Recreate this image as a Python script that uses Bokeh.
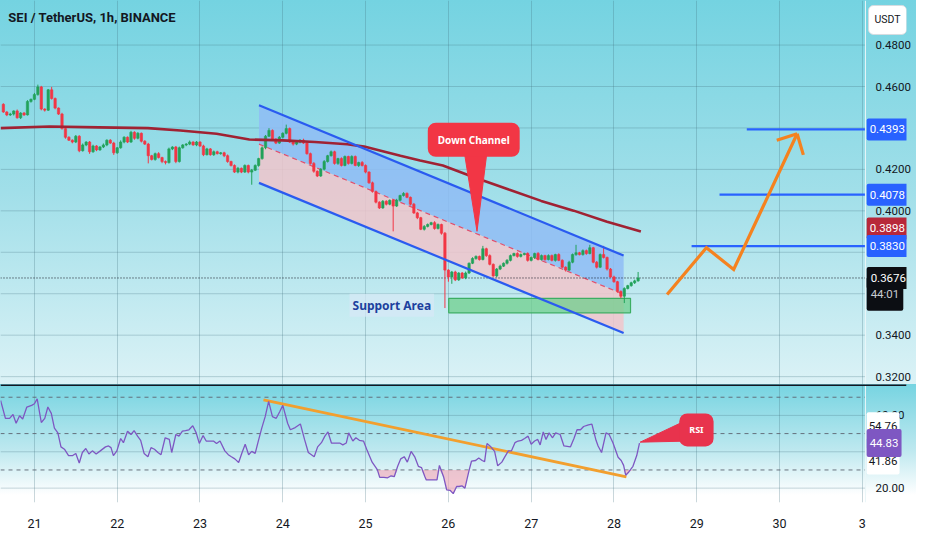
from bokeh.plotting import figure
from bokeh.models import Range1d, FixedTicker, Label, Span, ColumnDataSource, NumeralTickFormatter
from bokeh.layouts import column
from bokeh.embed import file_html
from bokeh.resources import INLINE

# ---------------- data ----------------
# hours since Sep 21 00:00 (1h candles)
first_open = 0.4514
closes = [
    0.4477, 0.4463, 0.4467, 0.4482, 0.4449, 0.4472, 0.4463, 0.4528, 0.4538, 0.4561,
    0.4598, 0.4491, 0.4486, 0.4584, 0.4542, 0.4496, 0.4467, 0.4397, 0.4355, 0.4341,
    0.4332, 0.4360, 0.4290, 0.4318, 0.4332, 0.4285, 0.4313, 0.4294, 0.4308, 0.4318,
    0.4341, 0.4327, 0.4280, 0.4304, 0.4332, 0.4355, 0.4332, 0.4379, 0.4350, 0.4374,
    0.4336, 0.4322, 0.4266, 0.4248, 0.4276, 0.4257, 0.4238, 0.4233, 0.4299, 0.4308,
    0.4238, 0.4304, 0.4318, 0.4322, 0.4332, 0.4318, 0.4332, 0.4313, 0.4271, 0.4299,
    0.4271, 0.4285, 0.4276, 0.4280, 0.4266, 0.4238, 0.4219, 0.4187, 0.4205, 0.4187,
    0.4219, 0.4187, 0.4196, 0.4219, 0.4252, 0.4304, 0.4360, 0.4388, 0.4346, 0.4327,
    0.4355, 0.4374, 0.4397, 0.4332, 0.4322, 0.4332, 0.4341, 0.4327, 0.4276, 0.4229,
    0.4191, 0.4168, 0.4201, 0.4238, 0.4266, 0.4285, 0.4229, 0.4252, 0.4219, 0.4262,
    0.4229, 0.4262, 0.4219, 0.4233, 0.4219, 0.4187, 0.4135, 0.4093, 0.4042, 0.4014,
    0.4046, 0.4032, 0.4051, 0.4023, 0.4051, 0.4074, 0.4084, 0.4065, 0.4032, 0.3990,
    0.3967, 0.3911, 0.3925, 0.3934, 0.3943, 0.3915, 0.3934, 0.3892, 0.3714, 0.3681,
    0.3705, 0.3667, 0.3700, 0.3676, 0.3700, 0.3747, 0.3770, 0.3780, 0.3765, 0.3817,
    0.3784, 0.3742, 0.3686, 0.3719, 0.3733, 0.3747, 0.3761, 0.3784, 0.3794, 0.3780,
    0.3789, 0.3794, 0.3761, 0.3775, 0.3794, 0.3765, 0.3784, 0.3765, 0.3784, 0.3761,
    0.3789, 0.3761, 0.3728, 0.3714, 0.3752, 0.3789, 0.3798, 0.3789, 0.3808, 0.3794,
    0.3822, 0.3752, 0.3728, 0.3789, 0.3775, 0.3719, 0.3681, 0.3658, 0.3611, 0.3588,
    0.3625, 0.3639, 0.3653, 0.3662, 0.3676,
]
# wick lengths beyond the body, in 0.0001 units
upper_wick = [
    5, 4, 6, 3, 7, 4, 5, 6, 4, 8,
    11, 5, 4, 4, 14, 5, 3, 6, 4, 5,
    4, 6, 5, 7, 4, 5, 6, 4, 5, 7,
    4, 5, 6, 4, 8, 5, 4, 7, 5, 6,
    4, 5, 6, 4, 5, 7, 4, 5, 6, 4,
    5, 6, 4, 5, 7, 4, 5, 4, 6, 5,
    4, 6, 5, 4, 5, 6, 4, 5, 7, 4,
    5, 4, 6, 5, 4, 7, 6, 11, 5, 4,
    6, 5, 19, 5, 4, 6, 5, 7, 4, 5,
    6, 4, 5, 7, 4, 6, 5, 4, 6, 5,
    4, 6, 5, 4, 7, 5, 4, 6, 5, 4,
    6, 5, 4, 5, 7, 4, 6, 5, 4, 6,
    5, 4, 6, 5, 4, 7, 5, 4, 6, 4,
    5, 6, 4, 5, 7, 4, 6, 5, 4, 14,
    5, 6, 4, 5, 7, 4, 6, 5, 4, 6,
    5, 4, 6, 5, 4, 7, 5, 4, 6, 5,
    4, 6, 5, 4, 7, 5, 38, 4, 6, 5,
    14, 4, 6, 5, 42, 4, 5, 6, 4, 5,
    6, 4, 5, 6, 29,
]
lower_wick = [
    4, 6, 5, 7, 4, 6, 5, 3, 6, 4,
    5, 6, 7, 4, 5, 6, 4, 5, 7, 4,
    6, 5, 7, 4, 6, 10, 5, 6, 4, 5,
    6, 4, 10, 5, 4, 6, 5, 4, 7, 5,
    6, 4, 37, 5, 6, 4, 8, 9, 5, 6,
    8, 5, 4, 6, 5, 4, 6, 5, 7, 4,
    5, 6, 4, 5, 7, 6, 5, 4, 6, 5,
    4, 6, 61, 4, 6, 5, 7, 4, 6, 5,
    4, 6, 5, 4, 7, 5, 6, 4, 5, 6,
    7, 5, 4, 6, 5, 4, 6, 7, 5, 4,
    6, 5, 4, 7, 5, 6, 4, 5, 6, 5,
    4, 6, 5, 122, 4, 6, 5, 4, 6, 5,
    7, 4, 6, 5, 4, 6, 5, 7, 183, 23,
    33, 6, 5, 4, 6, 5, 4, 6, 5, 4,
    6, 5, 4, 7, 5, 4, 6, 5, 4, 6,
    5, 4, 6, 5, 7, 4, 5, 6, 4, 5,
    6, 4, 5, 7, 4, 5, 6, 4, 5, 6,
    4, 5, 6, 4, 5, 7, 4, 5, 6, 10,
    33, 4, 5, 6, 4,
]
candle_hours = list(range(-9, 176))

# 200 MA (read at sample points)
ma_h = [-9.8, 4.4, 18.7, 32.9, 42.3, 52.8, 62.3, 71.9, 81.3, 90.7, 95.6, 100.4,
        106.1, 111.8, 118.4, 127.8, 137.5, 146.9, 156.3, 166.0, 175.8]
ma_v = [0.4399, 0.4407, 0.4403, 0.4399, 0.4388, 0.4372, 0.4344, 0.4340, 0.4332,
        0.4321, 0.4310, 0.4290, 0.4266, 0.4243, 0.4219, 0.4160, 0.4103, 0.4048,
        0.4001, 0.3947, 0.3900]

# RSI (read at sample points)
rsi_h = [-9.8, -8.4, -7.2, -6.2, -5.3, -4.3, -3.4, -2.2, -0.8, 0.0,
         0.8, 2.0, 3.0, 3.9, 4.9, 5.8, 6.8, 7.7, 8.7, 9.9,
         11.1, 12.0, 13.0, 13.9, 14.9, 15.8, 16.8, 17.9, 19.1, 20.6,
         21.5, 22.2, 22.9, 23.9, 25.0, 25.8, 27.0, 28.0, 28.9, 29.9,
         30.8, 31.8, 32.9, 33.8, 34.8, 35.8, 36.7, 37.9, 39.1, 39.8,
         41.0, 41.9, 42.9, 43.8, 44.8, 45.9, 46.9, 47.8, 48.9, 49.8,
         50.9, 51.9, 52.8, 53.8, 55.2, 56.2, 57.1, 58.1, 59.2, 60.2,
         61.1, 62.1, 63.0, 64.0, 64.9, 65.9, 66.9, 67.9, 69.0, 70.1,
         71.1, 72.0, 73.4, 74.2, 75.6, 77.1, 78.3, 79.4, 81.1, 82.1,
         83.2, 84.2, 85.1, 86.1, 87.5, 88.5, 89.4, 90.4, 91.1, 92.3,
         93.2, 94.2, 95.4, 96.5, 97.9, 99.4, 100.1, 101.3, 102.4, 103.4,
         104.3, 105.3, 106.2, 107.2, 108.1, 109.2, 110.3, 111.3, 112.2, 113.2,
         113.6, 115.5, 116.7, 117.4, 118.6, 119.5, 120.5, 121.4, 122.4, 123.1,
         123.9, 124.8, 126.0, 126.7, 127.9, 128.8, 129.8, 130.5, 131.2, 132.3,
         133.4, 134.3, 135.5, 136.4, 137.4, 138.3, 139.3, 140.2, 141.2, 142.1,
         143.1, 144.0, 145.0, 145.9, 146.6, 147.5, 148.3, 149.2, 150.2, 151.1,
         152.4, 153.5, 155.4, 156.4, 157.3, 158.3, 159.2, 160.6, 161.6, 162.8,
         163.4, 164.4, 165.7, 166.6, 167.7, 169.2, 170.1, 170.8, 171.4, 172.3,
         173.5, 174.6, 175.4]
rsi_v = [68.2, 58.4, 58.4, 60.5, 55.7, 59.8, 58.0, 64.6, 65.5, 66.4,
         69.1, 56.1, 58.4, 64.6, 61.1, 53.0, 50.4, 42.7, 41.4, 37.9,
         37.9, 39.1, 33.8, 39.6, 41.8, 38.8, 40.5, 38.8, 40.5, 42.7,
         43.2, 42.3, 37.9, 40.5, 47.3, 45.0, 51.3, 49.5, 51.6, 48.6,
         46.3, 39.1, 37.3, 42.3, 41.4, 39.6, 38.4, 47.7, 46.8, 39.6,
         49.5, 48.6, 51.3, 51.6, 52.1, 54.3, 50.4, 44.6, 48.9, 45.9,
         45.9, 45.9, 44.5, 45.9, 40.5, 38.4, 37.3, 36.1, 34.1, 39.6,
         44.1, 38.4, 40.2, 39.1, 45.9, 53.0, 59.3, 67.7, 59.3, 58.4,
         62.0, 65.5, 55.7, 52.1, 53.3, 55.3, 46.8, 39.6, 37.3, 42.7,
         45.0, 48.6, 50.9, 44.8, 44.8, 44.8, 43.8, 44.8, 50.4, 45.9,
         47.7, 46.3, 45.9, 40.5, 34.3, 30.2, 25.9, 25.9, 25.7, 26.8,
         26.3, 32.0, 36.1, 37.3, 34.3, 40.2, 37.0, 32.0, 31.3, 26.3,
         24.5, 24.5, 24.5, 32.5, 26.3, 19.1, 18.8, 17.0, 20.9, 20.9,
         21.3, 20.0, 29.8, 34.8, 35.2, 36.6, 35.2, 34.6, 44.5, 42.7,
         40.2, 32.3, 34.3, 37.3, 40.5, 40.5, 45.0, 45.9, 46.3, 47.3,
         48.6, 44.1, 45.9, 46.8, 43.8, 50.9, 46.8, 50.4, 47.7, 50.4,
         49.5, 43.2, 42.7, 47.3, 52.1, 52.1, 53.9, 54.8, 55.2, 46.3,
         43.2, 39.6, 50.4, 49.5, 45.0, 37.0, 35.2, 32.5, 27.1, 28.9,
         32.0, 37.9, 44.8]

# drawings
channel_h = [65.1, 170.8]
channel_upper = [0.4510, 0.3784]
channel_mid = [0.4322, 0.3597]
channel_lower = [0.4135, 0.3410]
support_h = [120.1, 172.8]
support_p = [0.3508, 0.3578]
target_levels = [0.4393, 0.4078, 0.3830]
target_start_h = [206.5, 198.6, 190.5]
path_h = [183.4, 194.8, 202.7, 221.1]
path_p = [0.3596, 0.3822, 0.3717, 0.4372]
arrow_h = [215.2, 222.9]
arrow_p = [0.4341, 0.4270]
rsi_trend_h = [66.4, 171.6]
rsi_trend_v = [68.6, 26.2]
down_ptr_h = [124.6, 131.2, 128.3]
down_ptr_p = [0.4285, 0.4285, 0.3901]
rsi_ptr_h = [175.6, 190.2, 190.2]
rsi_ptr_v = [45.3, 58.4, 45.9]

price_grid = [0.32, 0.34, 0.36, 0.38, 0.40, 0.42, 0.44, 0.46, 0.48]
price_labels_shown = [0.32, 0.34, 0.40, 0.42, 0.46, 0.48]   # others sit under the badges
day_ticks = [0, 24, 48, 72, 96, 120, 144, 168, 192, 216, 240]
day_labels = ["21", "22", "23", "24", "25", "26", "27", "28", "29", "30", "3"]
rsi_grid = [20, 40, 60]
rsi_labels_shown = [20, 60]
rsi_bands = [70, 50, 30]
last_price = 0.3676

# ---------------- build ----------------
X0, X1 = -9.83, 252.8      # visible time span (hours), incl. the price-scale strip
XA = 240.9                 # where the price-scale strip begins
FRAME_W = 906
UP, DOWN = "#22a25a", "#f23645"
GRID = "#3f6f7c"
FONT = "Roboto"

opens = [first_open] + closes[:-1]
highs = [max(o, c) + w / 10000 for o, c, w in zip(opens, closes, upper_wick)]
lows = [min(o, c) - w / 10000 for o, c, w in zip(opens, closes, lower_wick)]
colors = [UP if c >= o else DOWN for o, c in zip(opens, closes)]
src = ColumnDataSource(dict(h=candle_hours, o=opens, c=closes, hi=highs, lo=lows,
                            top=[max(o, c) for o, c in zip(opens, closes)],
                            bot=[min(o, c) for o, c in zip(opens, closes)],
                            col=colors))


def style_right_axis(ax):
    ax.major_tick_line_color = None
    ax.minor_tick_line_color = None
    ax.axis_line_color = None
    ax.major_label_text_font = FONT
    ax.major_label_text_font_size = "11.5px"
    ax.major_label_text_color = "#131722"
    ax.major_label_standoff = -37


main = figure(frame_width=FRAME_W, frame_height=384,
              x_range=Range1d(X0, X1), y_range=Range1d(0.3162, 0.5015),
              x_axis_location=None, y_axis_location="right",
              output_backend="svg", toolbar_location=None,
              min_border_left=0, min_border_right=10, min_border_top=0, min_border_bottom=0,
              background_fill_alpha=0, border_fill_alpha=0, outline_line_color=None,
              styles={"background": "linear-gradient(to bottom, #74d3e1 0%, #a1dfe9 50%, #dbf2f6 100%)"})

main.yaxis.ticker = FixedTicker(ticks=price_labels_shown)
main.yaxis.formatter = NumeralTickFormatter(format="0.0000")
style_right_axis(main.yaxis)
main.ygrid.visible = False
main.xgrid.ticker = FixedTicker(ticks=day_ticks)
main.xgrid.grid_line_color = GRID
main.xgrid.grid_line_alpha = 0.28

# horizontal grid (stops at price scale)
main.segment(x0=[X0] * len(price_grid), y0=price_grid, x1=[XA] * len(price_grid), y1=price_grid,
             line_color=GRID, line_alpha=0.28, line_width=1)
main.add_layout(Span(location=XA, dimension="height", line_color="#eaf6f8", line_width=1))

# channel fills
main.patch([channel_h[0], channel_h[1], channel_h[1], channel_h[0]],
           [channel_upper[0], channel_upper[1], channel_mid[1], channel_mid[0]],
           fill_color="#8fbcf5", fill_alpha=0.85, line_color=None)
main.patch([channel_h[0], channel_h[1], channel_h[1], channel_h[0]],
           [channel_mid[0], channel_mid[1], channel_lower[1], channel_lower[0]],
           fill_color="#f1c6cb", fill_alpha=0.85, line_color=None)
main.line(channel_h, channel_mid, line_color="#e0506e", line_width=1.2, line_dash="5 4")

# support area
main.quad(left=[support_h[0]], right=[support_h[1]], bottom=[support_p[0]], top=[support_p[1]],
          fill_color="#6fcf8c", fill_alpha=0.75, line_color="#3cae63", line_width=1.2)

# price line
main.segment(x0=[X0], y0=[last_price], x1=[XA], y1=[last_price], line_color="#131722",
             line_width=1, line_dash="1 2")

# candles
main.segment(x0="h", y0="lo", x1="h", y1="hi", line_color="col", line_width=1, source=src)
main.vbar(x="h", width=0.68, top="top", bottom="bot", fill_color="col", line_color="col",
          line_width=0.6, source=src)

# moving average
main.line(ma_h, ma_v, line_color="#a02233", line_width=2.6)

# channel borders
main.line(channel_h, channel_upper, line_color="#2a5bf0", line_width=2.2)
main.line(channel_h, channel_lower, line_color="#2a5bf0", line_width=2.2)

# targets
main.segment(x0=target_start_h, y0=target_levels, x1=[XA] * len(target_levels), y1=target_levels,
             line_color="#2962ff", line_width=2.2)

# projected path
main.line(path_h, path_p, line_color="#f5821f", line_width=3.2, line_join="miter")
main.segment(x0=[path_h[-1]] * 2, y0=[path_p[-1]] * 2, x1=arrow_h, y1=arrow_p,
             line_color="#f5821f", line_width=3.2)

# callouts
main.patch(down_ptr_h, down_ptr_p, fill_color="#f23645", line_color="#f23645")
main.add_layout(Label(x=127.35, y=0.4343, text="Down Channel", text_align="center",
                      text_baseline="middle", text_font="Noto Sans", text_font_style="bold",
                      text_font_size="10px", text_color="white",
                      background_fill_color="#f23645", border_radius=8, padding=10))
main.add_layout(Label(x=103.6, y=0.3545, text="Support Area", text_align="center",
                      text_baseline="middle", text_font="Noto Sans", text_font_style="bold",
                      text_font_size="12px", text_color="#1d3f9e",
                      background_fill_color="#d6e8f6", background_fill_alpha=0.75, padding=3))

# title
main.add_layout(Label(x=-7.55, y=0.4931, text="SEI / TetherUS, 1h, BINANCE", text_align="left",
                      text_baseline="middle", text_font=FONT, text_font_style="bold",
                      text_font_size="13px", text_color="#131722"))


# price-scale badges
def badge(fig, yv, txt, bg, fg="white", border=None, pad=(3, 7)):
    fig.add_layout(Label(x=XA + 0.35, y=yv, text=txt, text_align="left",
                         text_baseline="middle", text_font=FONT, text_font_size="11.5px",
                         text_color=fg, background_fill_color=bg,
                         border_line_color=border, padding=pad, border_radius=2))


main.add_layout(Label(x=XA + 0.9, y=0.4921, text="USDT", text_align="left",
                      text_baseline="middle", text_font=FONT, text_font_size="10.5px",
                      text_color="#131722", background_fill_color="white",
                      border_line_color="#d6dbe0", padding=(6, 8), border_radius=5))
badge(main, target_levels[0], "0.4393", "#2962ff")
badge(main, target_levels[1], "0.4078", "#2962ff")
badge(main, 0.3915, "0.3898", "#b8283a")
badge(main, target_levels[2], "0.3830", "#2962ff")
badge(main, 0.3600, "44:01", "#0c0e13", fg="#c9cbd1", pad=(4, 10))
badge(main, last_price, "0.3676", "#0c0e13", pad=(4, 7))

# ---------------- RSI panel ----------------
rsi = figure(frame_width=FRAME_W, frame_height=118,
             x_range=main.x_range, y_range=Range1d(12.1, 77.0),
             x_axis_location="below", y_axis_location="right",
             output_backend="svg", toolbar_location=None,
             min_border_left=0, min_border_right=10, min_border_top=0, min_border_bottom=4,
             background_fill_alpha=0, border_fill_alpha=0, outline_line_color=None,
             styles={"background": "linear-gradient(to bottom, #76d4e1 0%, #bde8ef 45%, #ffffff 76%, #ffffff 100%)"})

rsi.xaxis.ticker = FixedTicker(ticks=day_ticks)
rsi.xaxis.major_label_overrides = {t: l for t, l in zip(day_ticks, day_labels)}
rsi.xaxis.major_tick_line_color = None
rsi.xaxis.minor_tick_line_color = None
rsi.xaxis.axis_line_color = None
rsi.xaxis.major_label_text_font = FONT
rsi.xaxis.major_label_text_font_size = "12.5px"
rsi.xaxis.major_label_text_color = "#131722"
rsi.xaxis.major_label_standoff = 10
rsi.yaxis.ticker = FixedTicker(ticks=rsi_labels_shown)
rsi.yaxis.formatter = NumeralTickFormatter(format="0.00")
style_right_axis(rsi.yaxis)
rsi.ygrid.visible = False
rsi.xgrid.grid_line_color = GRID
rsi.xgrid.grid_line_alpha = 0.28

rsi.segment(x0=[X0] * len(rsi_grid), y0=rsi_grid, x1=[XA] * len(rsi_grid), y1=rsi_grid,
            line_color=GRID, line_alpha=0.28, line_width=1)
rsi.segment(x0=[X0] * len(rsi_bands), y0=rsi_bands, x1=[XA] * len(rsi_bands), y1=rsi_bands,
            line_color="#5d6470", line_alpha=0.9, line_width=1, line_dash="4 4")
rsi.add_layout(Span(location=XA, dimension="height", line_color="#eaf6f8", line_width=1))

rsi.varea(x=rsi_h, y1=[min(v, 30) for v in rsi_v], y2=[30] * len(rsi_v),
          fill_color="#f4a3b4", fill_alpha=0.6)
rsi.line(rsi_trend_h, rsi_trend_v, line_color="#f29f2e", line_width=2.8)
rsi.line(rsi_h, rsi_v, line_color="#7e57c2", line_width=1.3)

rsi.patch(rsi_ptr_h, rsi_ptr_v, fill_color="#e8334d", line_color="#e8334d")
rsi.add_layout(Label(x=191.9, y=52.0, text="RSI", text_align="center", text_baseline="middle",
                     text_font="Noto Sans", text_font_style="bold", text_font_size="9px",
                     text_color="white", background_fill_color="#e8334d",
                     border_radius=8, padding=10))

rsi.add_layout(Span(location=76.7, dimension="width", line_color="#131722", line_width=2))

badge(rsi, 54.0, "54.76", "white", fg="#131722", pad=(2, 10))
badge(rsi, 35.2, "41.86", "white", fg="#131722", pad=(2, 10))
badge(rsi, 44.83, "44.83", "#7e57c2", pad=(3, 10))

layout = column(main, rsi, spacing=0)
open("out.html", "w").write(file_html(layout, INLINE))
